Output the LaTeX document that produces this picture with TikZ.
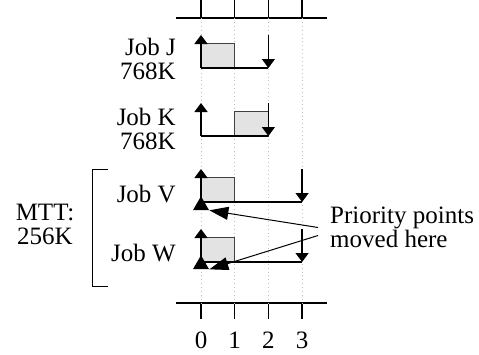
\documentclass[tikz,border=0pt]{standalone}
\usepackage{fontspec}
\setmainfont{Liberation Serif}
\usetikzlibrary{arrows.meta,shapes.geometric,positioning}
\newcommand{\jobfont}{\fontsize{25}{24}\selectfont}
\tikzset{
    joblabel/.style = {font=\jobfont, inner sep=0pt, align=right},
    busy/.style = {draw=black!75, fill=black!11, line width=0.9pt},
    timeline/.style = {line width=1.5pt},
    axis/.style = {line width=1.3pt},
    grid/.style = {black!25, line width=0.9pt, dash pattern=on 0.9pt off 3pt},
    bracket/.style = {line width=1pt},
    prio/.style = {regular polygon, regular polygon sides=3, fill,
        minimum size=18.5pt, inner sep=0pt},
    pointer/.style = {draw, line width=1pt, -{Triangle[length=19pt,width=13pt]}}
}

\begin{document}
\begin{tikzpicture}[x=1pt, y=-1pt, >={Triangle[length=9pt,width=13pt]}]
        \useasboundingbox (0,0) rectangle (479,354);
        % job names and sizes
        \node [joblabel, anchor=east] (jobj) at (176,59) {Job J\\768K};
        \node [joblabel, anchor=east] (jobk) at (176,128.5) {Job K\\768K};
        \node [joblabel, anchor=base east] (jobv) at (176,202) {Job V};
        \node [joblabel, anchor=base east] (jobw) at (176,261) {Job W};
        \node [joblabel, align=center] (mtt) at (45,224.5) {MTT:\\256K};
        \draw [bracket] (108,169) -- (92,169) -- (92,286) -- (108,286);
        % time axis
        \begin{scope}[shift={(201,0)}, x=33.7pt]
        \draw [axis] (-0.74,18) -- (3.74,18);
        \draw [axis] (-0.74,303) -- (3.74,303);
        \foreach \t in {0,...,3} {
            \draw [axis] (\t,0) -- (\t,18);
            \draw [axis] (\t,303) -- (\t,319);
            \draw [grid] (\t,18) -- (\t,303);
            \node [joblabel, anchor=base] (tick\t) at (\t,348) {\t};
        }
        % jobs: baseline / busy slot / deadline
        \foreach \base/\start/\due in {68/0/2, 136/1/2, 202/0/3, 262/0/3} {
            \draw [busy] (\start,\base-25) rectangle (\start+1,\base);
            \draw [timeline] (0,\base) -- (\due,\base);
            \draw [timeline, ->] (0,\base) -- (0,\base-33);
            \draw [timeline, ->] (\due,\base-33) -- (\due,\base);
        }
        \node [prio] (prv) at (0,205.5) {};
        \node [prio] (prw) at (0,264.5) {};
        \end{scope}
        % note
        \node [joblabel, align=left, anchor=west] (note) at (330,227.5) {Priority points\\moved here};
        \draw [pointer] ([xshift=-12pt]note.west) -- (prv.corner 3);
        \draw [pointer] ([xshift=-12pt,yshift=-8pt]note.west) -- (prw.corner 3);
\end{tikzpicture}
\end{document}
